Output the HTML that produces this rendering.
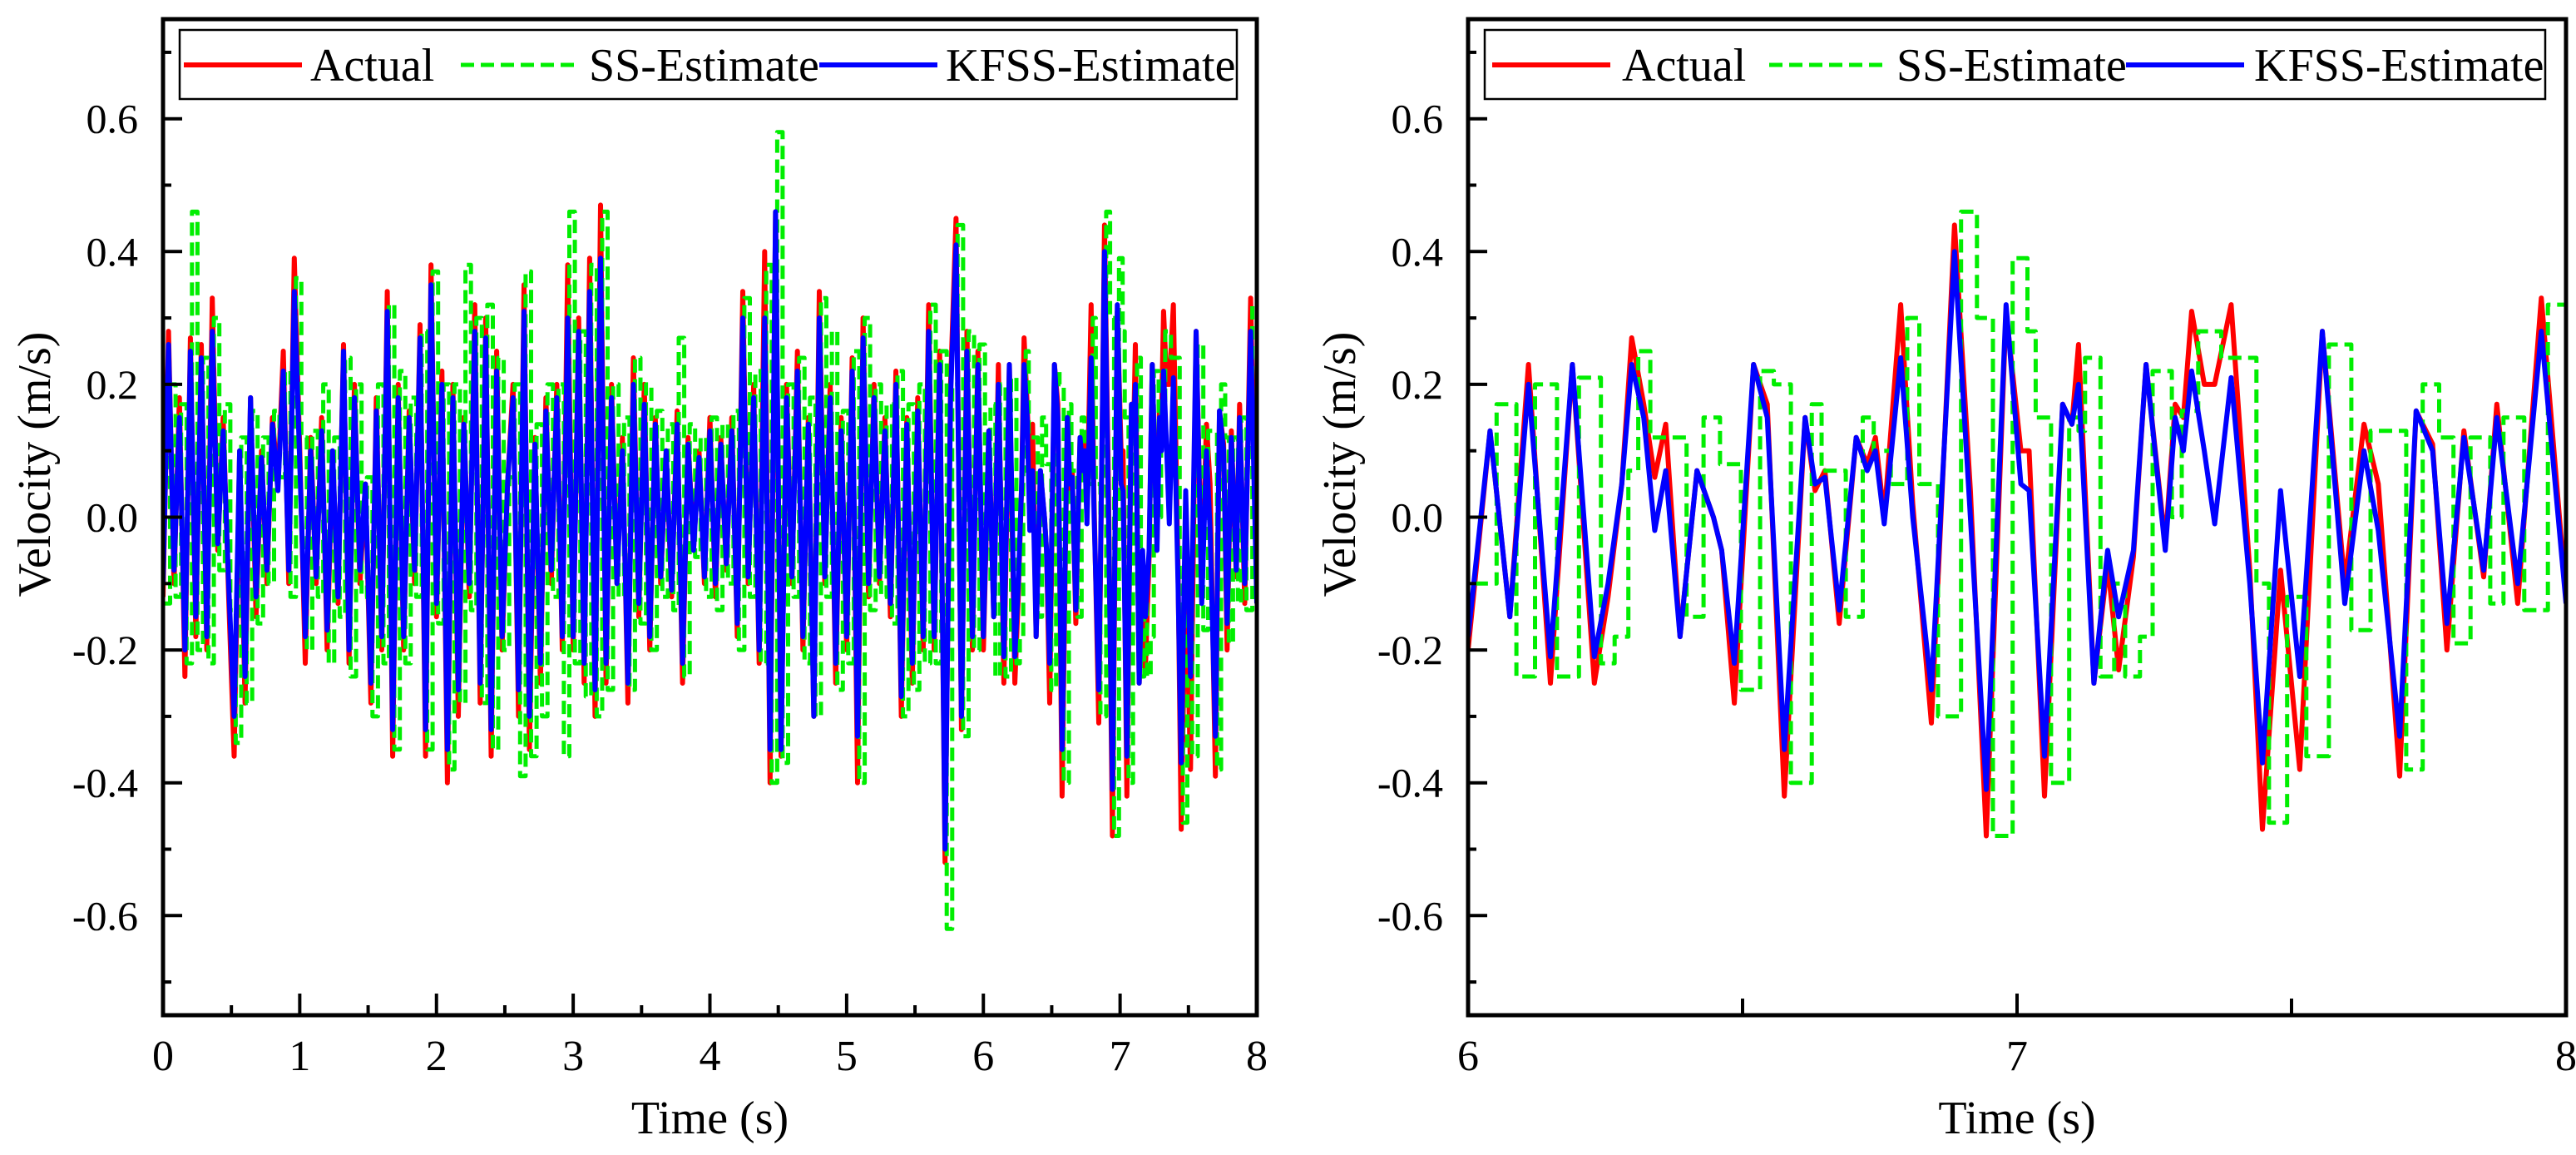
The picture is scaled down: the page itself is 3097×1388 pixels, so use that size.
<!DOCTYPE html>
<html><head><meta charset="utf-8"><style>
html,body{margin:0;padding:0;background:#fff;overflow:hidden}
svg{display:block}
text{font-family:"Liberation Serif",serif;fill:#000}
</style></head><body>
<svg id="chart" width="3097" height="1388" viewBox="0 0 3097 1388" xmlns="http://www.w3.org/2000/svg"></svg>
<script>
// ---------- data ----------
const yTicks = [-0.6,-0.4,-0.2,0.0,0.2,0.4,0.6];
const yTickLabels = ["-0.6","-0.4","-0.2","0.0","0.2","0.4","0.6"];
const leftXTicks = [0,1,2,3,4,5,6,7,8];
const leftXTickLabels = ["0","1","2","3","4","5","6","7","8"];
const rightXTicks = [6,7,8];
const rightXTickLabels = ["6","7","8"];
const seriesNames = ["Actual","SS-Estimate","KFSS-Estimate"];

// 0-6 s, sampled every 0.04 s
const earlyActual = [
-0.12,0.28,-0.1,0.18,-0.24,0.27,-0.18,0.26,-0.2,0.33,-0.05,0.15,-0.12,-0.36,0.1,-0.28,0.18,-0.15,0.1,-0.1,0.15,0.05,0.25,-0.1,0.39,
0.1,-0.22,0.12,-0.1,0.15,-0.2,0.1,-0.13,0.26,-0.22,0.2,-0.1,0.05,-0.28,0.18,-0.2,0.34,-0.36,0.2,-0.2,0.16,-0.1,0.29,-0.36,0.38,
-0.15,0.22,-0.4,0.2,-0.3,0.15,-0.12,0.32,-0.28,0.3,-0.36,0.25,-0.2,0.05,0.2,-0.3,0.35,-0.35,0.12,-0.25,0.18,-0.1,0.2,-0.2,0.38,
-0.2,0.3,-0.25,0.39,-0.3,0.47,-0.25,0.2,-0.1,0.12,-0.28,0.24,-0.15,0.2,-0.2,0.15,-0.1,0.1,-0.12,0.16,-0.25,0.12,-0.05,0.1,-0.1,
0.15,-0.12,0.12,-0.08,0.15,-0.18,0.34,-0.1,0.2,-0.22,0.4,-0.4,0.46,-0.36,0.2,-0.1,0.25,-0.2,0.15,-0.3,0.34,-0.1,0.2,-0.25,0.15,
-0.2,0.24,-0.4,0.3,-0.12,0.2,-0.1,0.15,-0.15,0.22,-0.3,0.15,-0.25,0.18,-0.2,0.32,-0.2,0.25,-0.52,0.2,0.45,-0.32,0.28,-0.2,0.25];
const earlyKfss = [
-0.1,0.26,-0.08,0.15,-0.2,0.25,-0.15,0.24,-0.18,0.28,-0.04,0.13,-0.1,-0.3,0.1,-0.24,0.18,-0.12,0.09,-0.08,0.14,0.04,0.22,-0.08,0.34,
0.08,-0.18,0.1,-0.09,0.13,-0.17,0.1,-0.12,0.25,-0.2,0.18,-0.08,0.05,-0.25,0.16,-0.18,0.31,-0.32,0.18,-0.18,0.15,-0.08,0.27,-0.32,0.35,
-0.13,0.2,-0.35,0.18,-0.26,0.14,-0.1,0.28,-0.25,0.27,-0.32,0.22,-0.18,0.05,0.18,-0.26,0.31,-0.3,0.11,-0.22,0.16,-0.08,0.18,-0.18,0.3,
-0.18,0.28,-0.22,0.34,-0.26,0.39,-0.22,0.18,-0.1,0.1,-0.25,0.2,-0.13,0.17,-0.18,0.14,-0.09,0.1,-0.11,0.14,-0.22,0.11,-0.05,0.09,-0.09,
0.13,-0.1,0.11,-0.07,0.13,-0.16,0.3,-0.09,0.18,-0.2,0.3,-0.35,0.46,-0.35,0.18,-0.09,0.22,-0.18,0.14,-0.3,0.3,-0.09,0.18,-0.22,0.13,
-0.18,0.22,-0.33,0.27,-0.1,0.18,-0.09,0.13,-0.13,0.2,-0.27,0.14,-0.22,0.16,-0.18,0.28,-0.18,0.23,-0.5,0.18,0.41,-0.3,0.25,-0.18,0.23];
const earlySs = [
-0.13,0.2,-0.12,0.17,-0.22,0.46,-0.2,0.24,-0.22,0.3,-0.08,0.17,-0.14,-0.34,0.12,-0.28,0.16,-0.16,0.12,-0.1,0.16,0.06,0.22,-0.12,0.36,
0.12,-0.2,0.13,-0.12,0.2,-0.22,0.12,-0.15,0.24,-0.24,0.2,-0.12,0.06,-0.3,0.2,-0.22,0.32,-0.35,0.22,-0.22,0.18,-0.12,0.28,-0.35,0.37,
-0.16,0.2,-0.38,0.2,-0.28,0.38,-0.14,0.3,-0.28,0.32,-0.35,0.24,-0.2,0.06,0.2,-0.39,0.37,-0.36,0.14,-0.3,0.2,-0.12,0.2,-0.36,0.46,
-0.22,0.28,-0.27,0.38,-0.3,0.46,-0.26,0.2,-0.12,0.15,-0.26,0.24,-0.16,0.2,-0.2,0.16,-0.12,0.14,-0.14,0.27,-0.24,0.14,-0.06,0.12,-0.12,
0.15,-0.14,0.14,-0.1,0.16,-0.2,0.33,-0.12,0.22,-0.22,0.38,-0.4,0.58,-0.37,0.2,-0.12,0.24,-0.22,0.18,-0.3,0.33,-0.12,0.28,-0.26,0.16,
-0.22,0.25,-0.4,0.3,-0.14,0.2,-0.12,0.17,-0.16,0.22,-0.3,0.17,-0.26,0.2,-0.22,0.32,-0.22,0.25,-0.62,0.2,0.44,-0.33,0.28,-0.2,0.26];

// 6-8 s feature points
const lateT = [6.00,6.04,6.076,6.11,6.15,6.19,6.23,6.255,6.28,6.298,6.32,6.34,6.36,6.386,6.417,6.447,6.462,6.485,6.52,6.545,6.576,6.614,6.632,6.65,6.676,6.707,6.727,6.742,6.758,6.788,6.81,6.844,6.886,6.915,6.944,6.98,7.007,7.022,7.05,7.083,7.1,7.112,7.14,7.165,7.185,7.212,7.235,7.27,7.288,7.303,7.318,7.341,7.36,7.39,7.424,7.447,7.48,7.515,7.556,7.597,7.632,7.658,7.697,7.727,7.757,7.783,7.814,7.85,7.874,7.912,7.955,8.0];
const lateActual = [-0.2,0.13,-0.15,0.23,-0.25,0.23,-0.25,-0.12,0.05,0.27,0.17,0.06,0.14,-0.18,0.07,0.0,-0.05,-0.28,0.23,0.17,-0.42,0.15,0.04,0.07,-0.16,0.12,0.08,0.12,0.0,0.32,0.02,-0.31,0.44,0.04,-0.48,0.31,0.1,0.1,-0.42,0.17,0.14,0.26,-0.25,-0.07,-0.23,-0.06,0.23,-0.04,0.17,0.15,0.31,0.2,0.2,0.32,-0.08,-0.47,-0.08,-0.38,0.28,-0.1,0.14,0.05,-0.39,0.16,0.11,-0.2,0.13,-0.09,0.17,-0.13,0.33,-0.12];
const lateKfss = [-0.18,0.13,-0.15,0.2,-0.21,0.23,-0.21,-0.1,0.05,0.23,0.15,-0.02,0.07,-0.18,0.07,0.0,-0.05,-0.22,0.23,0.15,-0.35,0.15,0.05,0.06,-0.14,0.12,0.07,0.1,-0.01,0.24,0.0,-0.26,0.4,0.0,-0.41,0.32,0.05,0.04,-0.36,0.17,0.14,0.2,-0.25,-0.05,-0.15,-0.05,0.23,-0.05,0.15,0.1,0.22,0.1,-0.01,0.21,-0.1,-0.37,0.04,-0.24,0.28,-0.13,0.1,-0.02,-0.33,0.16,0.1,-0.16,0.12,-0.08,0.15,-0.1,0.28,-0.13];
const lateSs = [-0.1,0.17,-0.24,0.2,-0.24,0.21,-0.22,-0.18,0.07,0.25,0.12,0.12,0.12,-0.15,0.15,0.08,0.08,-0.26,0.22,0.2,-0.4,0.17,0.07,0.07,-0.15,0.15,0.1,0.1,0.05,0.3,0.05,-0.3,0.46,0.3,-0.48,0.39,0.28,0.15,-0.4,0.15,0.13,0.24,-0.24,-0.1,-0.24,-0.18,0.22,0.0,0.16,0.16,0.28,0.28,0.24,0.24,-0.1,-0.46,-0.12,-0.36,0.26,-0.17,0.13,0.13,-0.38,0.2,0.12,-0.19,0.12,-0.13,0.15,-0.14,0.32,0.32];

// ---------- drawing ----------
const NS = "http://www.w3.org/2000/svg";
const svg = document.getElementById("chart");
const COLORS = ["#ff0000","#00ee00","#0000ff"];
const SS_LAG = 0.012;

function mk(tag, attrs, parent){
  const e = document.createElementNS(NS, tag);
  for (const k in attrs) e.setAttribute(k, attrs[k]);
  (parent||svg).appendChild(e);
  return e;
}

function drawPanel(cfg){
  const g = mk("g", {});
  
  
  const X0=cfg.x0, X1=cfg.x1, Y0=23, Y1=1220;
  const xs = t => X0 + (t - cfg.tmin)/(cfg.tmax - cfg.tmin)*(X1-X0);
  const ys = v => Y0 + (0.75 - v)/1.5*(Y1-Y0);
  const clip = "clip-"+cfg.name;
  const cp = mk("clipPath", {id:clip}, g);
  mk("rect", {x:X0, y:Y0, width:X1-X0, height:Y1-Y0}, cp);

  const plot = mk("g", {"clip-path":"url(#"+clip+")"}, g);
  cfg.series.forEach((s, i) => {
    let d = "";
    s.t.forEach((t, j) => {
      const tt = i===1 ? t + SS_LAG : t;
      if (tt < cfg.tmin - 0.05) return;
      const px = xs(tt), py = ys(s.v[j]);
      if (i===1 && d) { d += " H"+px.toFixed(1); }
      d += (d ? " L" : "M") + px.toFixed(1)+","+py.toFixed(1);
    });
    const p = mk("path", {d:d, fill:"none", stroke:COLORS[i], "stroke-width": i===1?5:6, "stroke-linejoin":"round",
      "stroke-dasharray": i===1 ? "16,8" : "none"}, plot);
    
    
  });

  const fr = mk("rect", {x:X0, y:Y0, width:X1-X0, height:Y1-Y0, fill:"none", stroke:"#000", "stroke-width":5}, g);
  
  

  for (let k=-7; k<=7; k++){
    const vv = k/10;
    const major = Math.abs(k) % 2 === 0;
    mk("line", {x1:X0, x2:X0+(major?23:10), y1:ys(vv), y2:ys(vv), stroke:"#000", "stroke-width":4}, g);
  }
  yTicks.forEach((v,i)=>{
    const t = mk("text", {x:X0-30, y:ys(v)+17, "text-anchor":"end", "font-size":50}, g);
    t.textContent = yTickLabels[i];
    
    
  });
  cfg.minorX.forEach(t=>{
    mk("line", {x1:xs(t), x2:xs(t), y1:Y1, y2:Y1-cfg.minorLen, stroke:"#000", "stroke-width":4}, g);
  });
  cfg.xTicks.forEach((t,i)=>{
    mk("line", {x1:xs(t), x2:xs(t), y1:Y1, y2:Y1-26, stroke:"#000", "stroke-width":4}, g);
    const tx = mk("text", {x:xs(t), y:1286, "text-anchor":"middle", "font-size":52}, g);
    tx.textContent = cfg.xLabels[i];
    
    
  });
  const xt = mk("text", {x:(X0+X1)/2, y:1362, "text-anchor":"middle", "font-size":56}, g);
  xt.textContent = "Time (s)";
  
  
  const yt = mk("text", {x:0, y:0, "text-anchor":"middle", "font-size":56, transform:"translate("+(cfg.ytx)+",558) rotate(-90)"}, g);
  yt.textContent = "Velocity (m/s)";
  
  

  const lg = mk("g", {}, g);
  
  
  mk("rect", {x:cfg.lx, y:36, width:cfg.lw, height:83, fill:"#fff", stroke:"#000", "stroke-width":2.5}, lg);
  cfg.legendPos.forEach((p,i)=>{
    const e = mk("g", {}, lg);
    
    
    mk("line", {x1:p[0], x2:p[0]+142, y1:78, y2:78, stroke:COLORS[i], "stroke-width": i===1?5:6, "stroke-dasharray": i===1?"16,8":"none"}, e);
    const t = mk("text", {x:p[1], y:97, "font-size":56}, e);
    t.textContent = seriesNames[i];
  });
}

const earlyT = earlyActual.map((_, i) => i*0.04);
const fullT = earlyT.concat(lateT);

drawPanel({
  name:"left-panel", x0:196, x1:1511, tmin:0, tmax:8,
  series:[{t:fullT, v:earlyActual.concat(lateActual)},{t:fullT, v:earlySs.concat(lateSs)},{t:fullT, v:earlyKfss.concat(lateKfss)}],
  xTicks:leftXTicks, xLabels:leftXTickLabels, minorX:[0.5,1.5,2.5,3.5,4.5,5.5,6.5,7.5], minorLen:12,
  ytx:60, lx:216, lw:1271, legendPos:[[221,373],[554,708],[985,1137]]
});
drawPanel({
  name:"right-panel", x0:1765, x1:3085, tmin:6, tmax:8,
  series:[{t:lateT, v:lateActual},{t:lateT, v:lateSs},{t:lateT, v:lateKfss}],
  xTicks:rightXTicks, xLabels:rightXTickLabels, minorX:[6.5,7.5], minorLen:20,
  ytx:1629, lx:1785, lw:1275, legendPos:[[1794,1950],[2127,2280],[2556,2710]]
});
</script>
</body></html>
